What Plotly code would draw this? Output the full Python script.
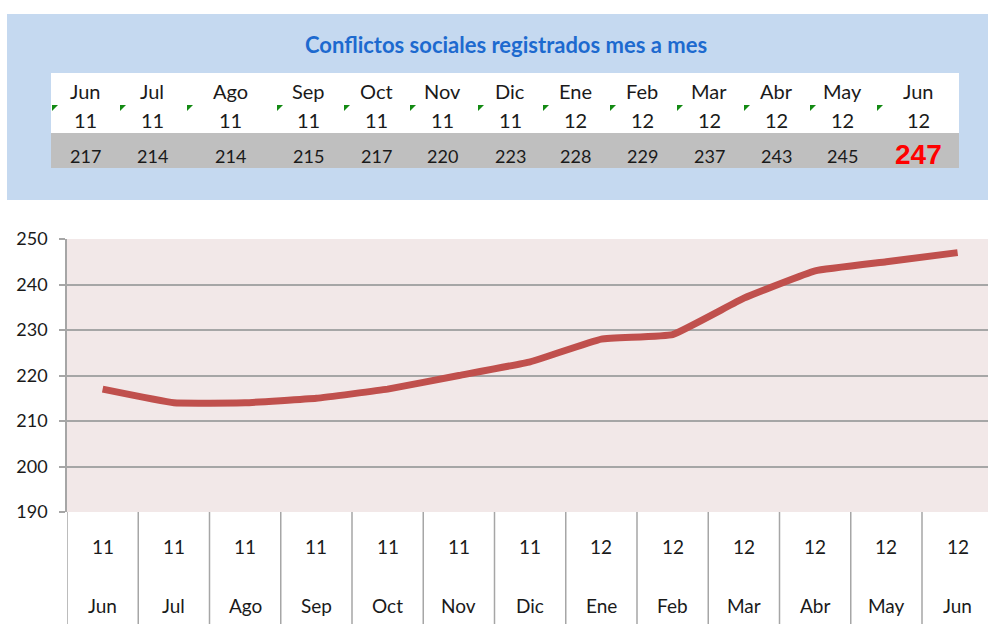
import plotly.graph_objects as go

months = ["Jun", "Jul", "Ago", "Sep", "Oct", "Nov", "Dic", "Ene", "Feb", "Mar", "Abr", "May", "Jun"]
years = ["11", "11", "11", "11", "11", "11", "11", "12", "12", "12", "12", "12", "12"]
values = [217, 214, 214, 215, 217, 220, 223, 228, 229, 237, 243, 245, 247]
title_text = "Conflictos sociales registrados mes a mes"
y_ticks = [190, 200, 210, 220, 230, 240, 250]

# layout constants (window pixels); body margin removed via post_script
W, H = 988, 624
OFF = 0
table_centers = [85, 152, 230, 308, 376, 442, 510, 575, 642, 709, 776, 842, 918]
tri_left = [52, 120, 187, 277, 344, 410, 478, 543, 610, 677, 744, 810, 877]
PL, PT, PB = 67, 239, 512
CW = 71.25


def px(x):
    return (x - OFF) / W


def py(y):
    return 1 - (y - OFF) / H


FONT = "Lato"
GRID = "#A6A6A6"
TXT = "#1A1A1A"

fig = go.Figure()
idx = list(range(len(values)))
fig.add_trace(go.Scatter(
    x=idx, y=values, mode="lines",
    line=dict(color="#C0504D", width=7, shape="spline", smoothing=0.3),
    hoverinfo="skip", showlegend=False,
))

shapes = []
annotations = []

# top panel
shapes.append(dict(type="rect", xref="paper", yref="paper", x0=px(7), x1=px(1000), y0=py(200), y1=py(14),
                   fillcolor="#C5D9F0", line=dict(width=0), layer="below"))
shapes.append(dict(type="rect", xref="paper", yref="paper", x0=px(51), x1=px(959), y0=py(133), y1=py(73),
                   fillcolor="#FFFFFF", line=dict(width=0), layer="below"))
shapes.append(dict(type="rect", xref="paper", yref="paper", x0=px(51), x1=px(959), y0=py(168), y1=py(133),
                   fillcolor="#BFBFBF", line=dict(width=0), layer="below"))
annotations.append(dict(text="<b>" + title_text + "</b>", xref="paper", yref="paper", x=px(506), y=py(45),
                        showarrow=False, font=dict(family=FONT, size=22, color="#1D6ACF"),
                        xanchor="center", yanchor="middle"))
for i in idx:
    cx = table_centers[i]
    annotations.append(dict(text=months[i], xref="paper", yref="paper", x=px(cx), y=py(91), showarrow=False,
                            font=dict(family=FONT, size=20, color=TXT), xanchor="center", yanchor="middle"))
    annotations.append(dict(text=years[i], xref="paper", yref="paper", x=px(cx), y=py(120), showarrow=False,
                            font=dict(family=FONT, size=20, color=TXT), xanchor="center", yanchor="middle"))
    if i == len(values) - 1:
        annotations.append(dict(text="<b>%d</b>" % values[i], xref="paper", yref="paper", x=px(cx), y=py(154),
                                showarrow=False, font=dict(family="Liberation Sans", size=28, color="#FF0000"),
                                xanchor="center", yanchor="middle"))
    else:
        annotations.append(dict(text=str(values[i]), xref="paper", yref="paper", x=px(cx), y=py(156),
                                showarrow=False, font=dict(family=FONT, size=18, color=TXT),
                                xanchor="center", yanchor="middle"))
    tl = tri_left[i]
    shapes.append(dict(type="path", xref="paper", yref="paper",
                       path="M %f %f L %f %f L %f %f Z" % (px(tl), py(105), px(tl + 6), py(105), px(tl), py(111)),
                       fillcolor="#138A13", line=dict(width=0)))

# category label area below plot
for i in range(len(values) + 1):
    shapes.append(dict(type="line", xref="x", yref="paper", x0=i - 0.5, x1=i - 0.5, y0=py(PB), y1=py(H + 20),
                       line=dict(color=GRID, width=1.5)))
for i in idx:
    annotations.append(dict(text=years[i], xref="x", yref="paper", x=i, y=py(546), showarrow=False,
                            font=dict(family=FONT, size=19, color=TXT), xanchor="center", yanchor="middle"))
    annotations.append(dict(text=months[i], xref="x", yref="paper", x=i, y=py(605), showarrow=False,
                            font=dict(family=FONT, size=19, color=TXT), xanchor="center", yanchor="middle"))

x_right = -0.5 + (W + OFF - PL) / CW
fig.update_layout(
    width=W, height=H,
    margin=dict(l=0, r=0, t=0, b=0),
    paper_bgcolor="#FFFFFF",
    plot_bgcolor="#F2E8E8",
    shapes=shapes,
    annotations=annotations,
    xaxis=dict(domain=[px(PL), 1], range=[-0.5, x_right], showgrid=False, showticklabels=False,
               zeroline=False, showline=False, ticks="", automargin=False, fixedrange=True),
    yaxis=dict(domain=[py(PB), py(PT)], range=[190, 250], tickvals=y_ticks, showgrid=True,
               gridcolor=GRID, gridwidth=1.5, zeroline=False, showline=True, linecolor=GRID, linewidth=1.5,
               ticks="outside", ticklen=6, tickcolor=GRID, tickwidth=1.5, automargin=False,
               ticklabelstandoff=8, fixedrange=True,
               tickfont=dict(family=FONT, size=18, color=TXT)),
)

fig.write_html("out.html",
               config={"displayModeBar": False},
               post_script="document.body.style.margin='0';document.body.style.overflow='hidden';")
